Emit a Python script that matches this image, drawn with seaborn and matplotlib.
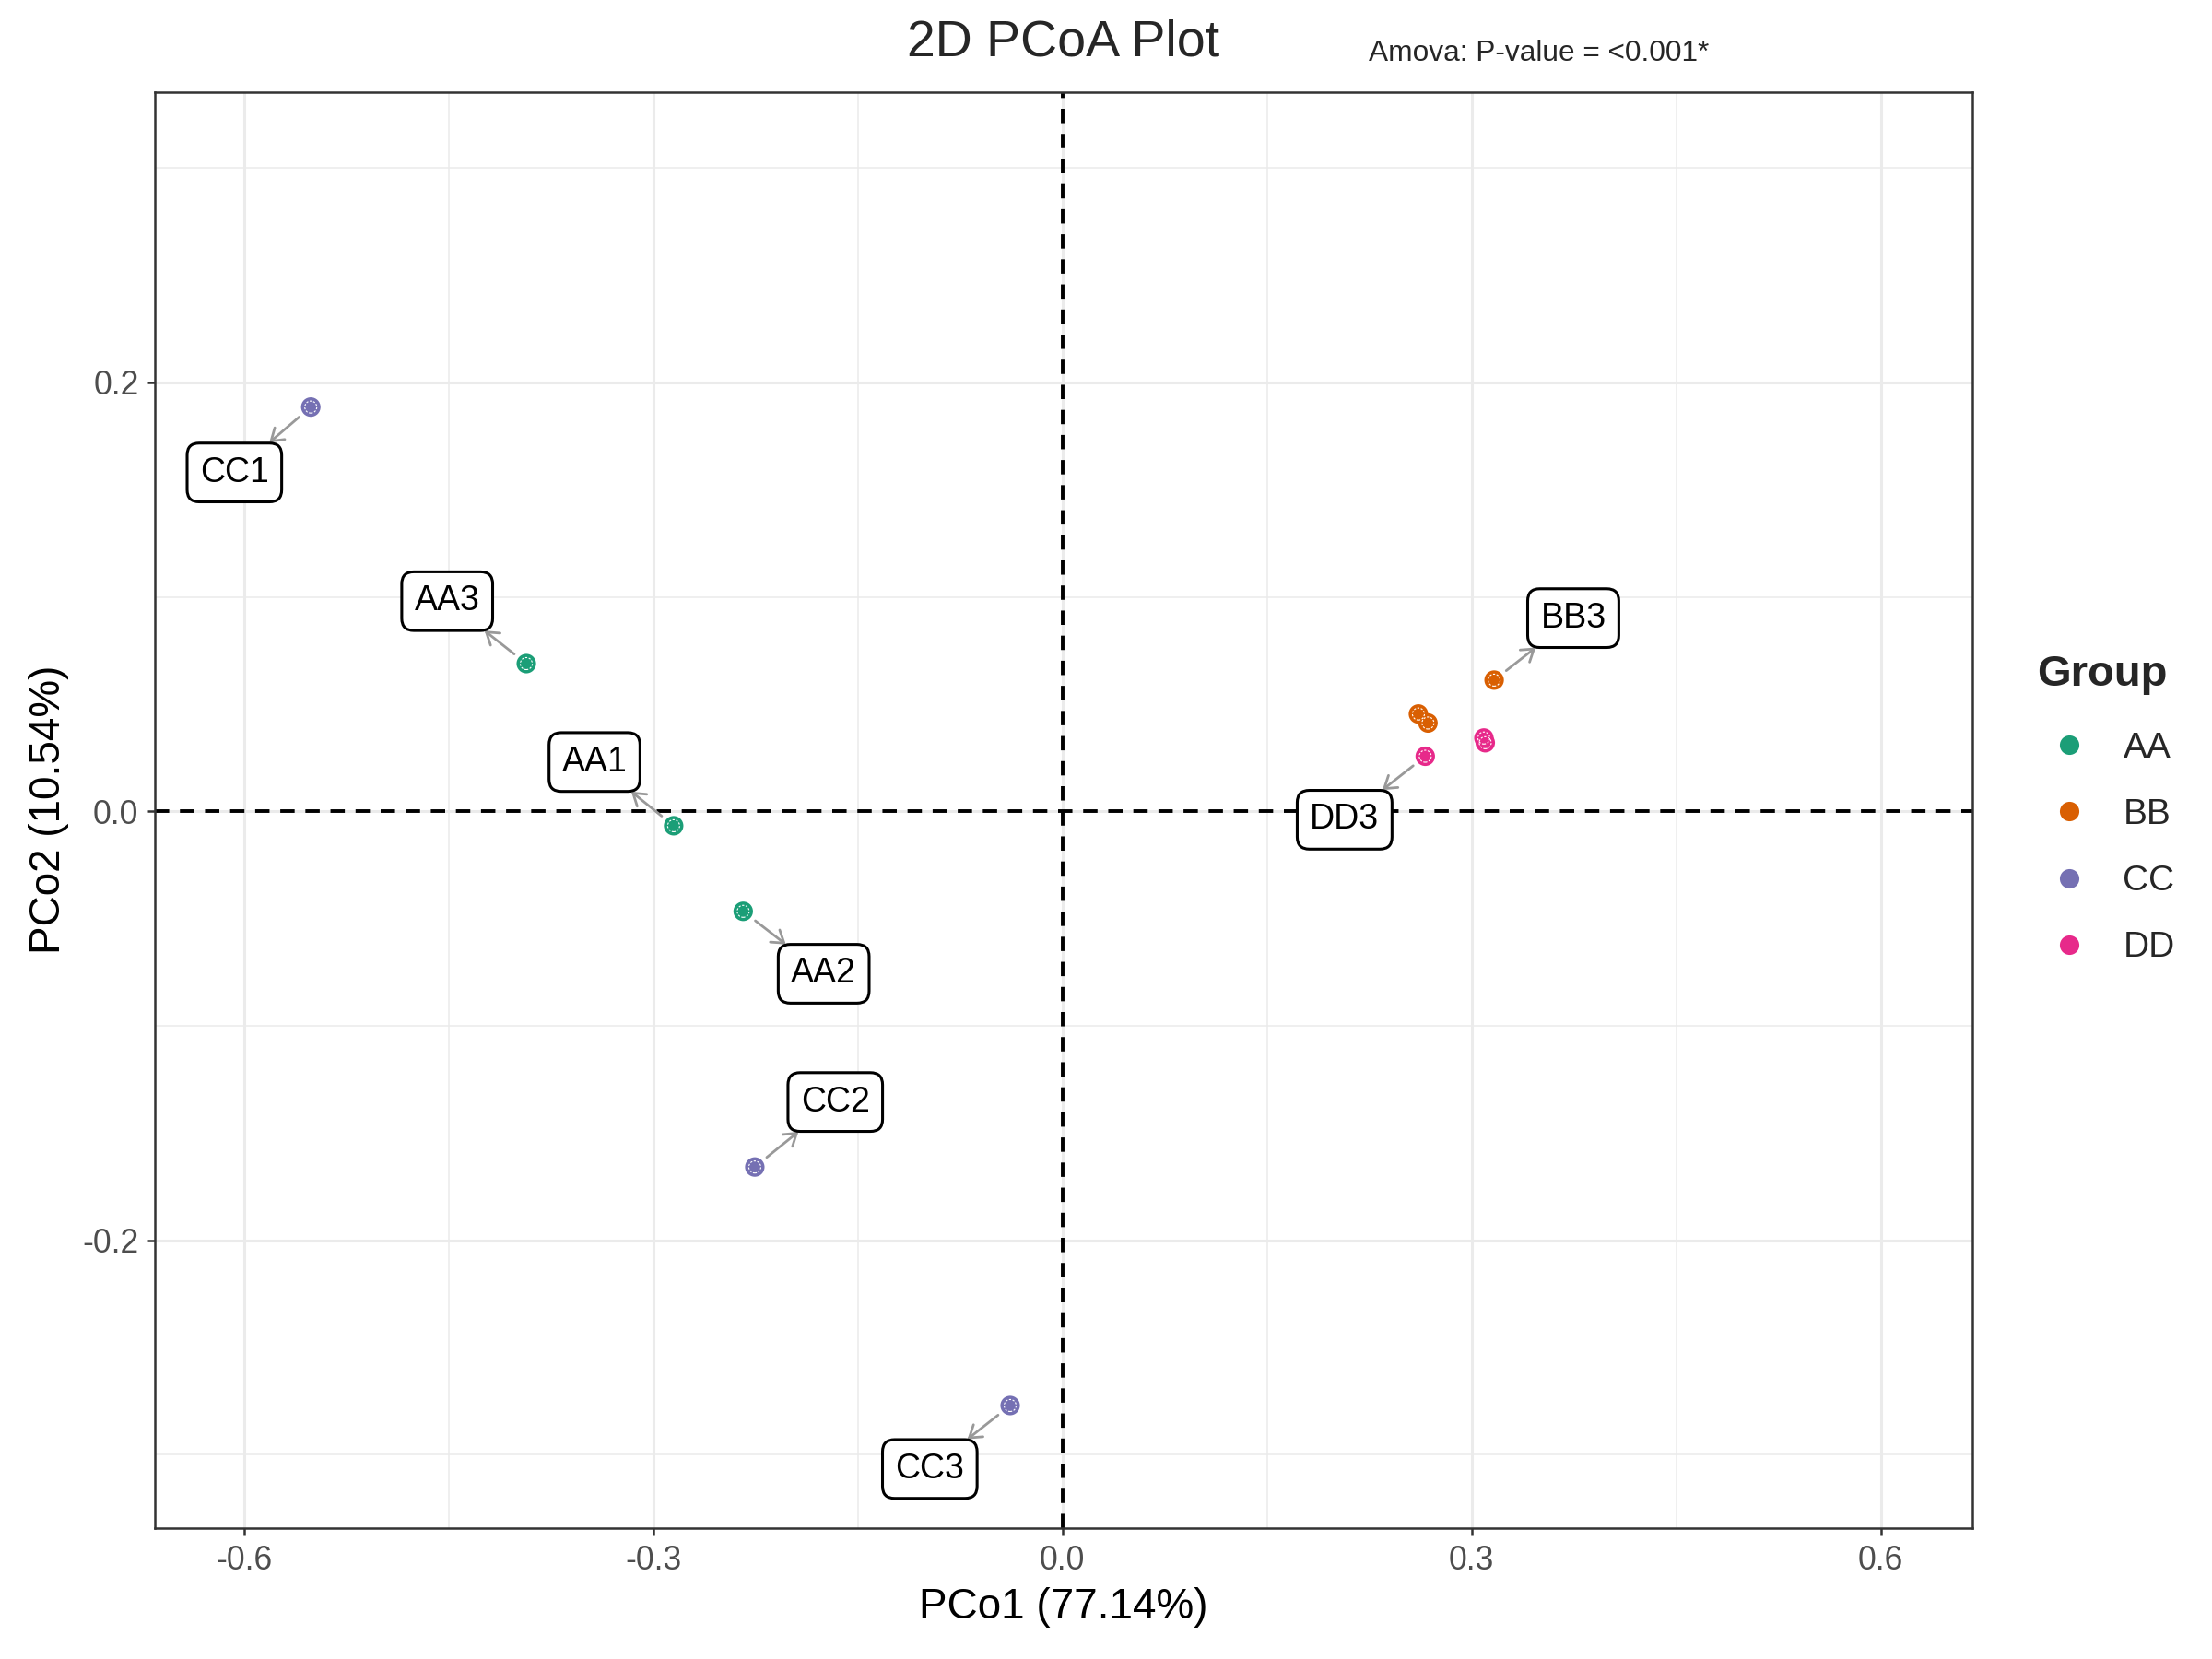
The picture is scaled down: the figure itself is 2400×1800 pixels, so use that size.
import numpy as np
import pandas as pd
import matplotlib
matplotlib.use("Agg")
import matplotlib.pyplot as plt
from matplotlib.lines import Line2D
import seaborn as sns

# PCoA coordinates
samples = ['AA1', 'AA2', 'AA3', 'BB1', 'BB2', 'BB3', 'CC1', 'CC2', 'CC3', 'DD1', 'DD2', 'DD3']
groups = ['AA', 'AA', 'AA', 'BB', 'BB', 'BB', 'CC', 'CC', 'CC', 'DD', 'DD', 'DD']
pco1 = [-0.285, -0.234, -0.393, 0.261, 0.268, 0.3165, -0.551, -0.2255, -0.0383, 0.309, 0.310, 0.266]
pco2 = [-0.0067, -0.0466, 0.0689, 0.0454, 0.0412, 0.0612, 0.1885, -0.1658, -0.277, 0.0342, 0.0320, 0.0257]

# repelled label positions
label_names = ['CC1', 'AA3', 'AA1', 'AA2', 'CC2', 'CC3', 'BB3', 'DD3']
label_x = [-0.607, -0.451, -0.343, -0.175, -0.1665, -0.0972, 0.3745, 0.2069]
label_y = [0.158, 0.098, 0.023, -0.0757, -0.1355, -0.3066, 0.0901, -0.0039]

group_order = ['AA', 'BB', 'CC', 'DD']
palette = dict(zip(group_order, ['#1B9E77', '#D95F02', '#7570B3', '#E7298A']))

df = pd.DataFrame({'sample': samples, 'Group': groups, 'PCo1': pco1, 'PCo2': pco2})

sns.set_style("white")
plt.rcParams['font.family'] = ['Liberation Sans', 'DejaVu Sans']

fig = plt.figure(figsize=(12, 9), dpi=200)
ax = fig.add_axes([0.0702, 0.0791, 0.8214, 0.8656])

# grid like theme_bw
for v in [-0.6, -0.3, 0.0, 0.3, 0.6]:
    ax.axvline(v, color='#EBEBEB', lw=1.1, zorder=0)
for v in [-0.45, -0.15, 0.15, 0.45]:
    ax.axvline(v, color='#EBEBEB', lw=0.55, zorder=0)
for v in [-0.2, 0.0, 0.2]:
    ax.axhline(v, color='#EBEBEB', lw=1.1, zorder=0)
for v in [-0.3, -0.1, 0.1, 0.3]:
    ax.axhline(v, color='#EBEBEB', lw=0.55, zorder=0)

ax.axvline(0, color='black', lw=1.4, ls=(0, (4, 3)), zorder=1)
ax.axhline(0, color='black', lw=1.4, ls=(0, (4, 3)), zorder=1)

sns.scatterplot(data=df, x='PCo1', y='PCo2', hue='Group', hue_order=group_order,
                palette=palette, s=58, edgecolor='none', legend=False, ax=ax, zorder=3)
ax.scatter(df['PCo1'], df['PCo2'], s=22, facecolors='none', edgecolors='white',
           linewidths=0.4, linestyles=(0, (2, 1.5)), zorder=4)

lookup = df.set_index('sample')
for name, lx, ly in zip(label_names, label_x, label_y):
    px, py = lookup.loc[name, 'PCo1'], lookup.loc[name, 'PCo2']
    ax.annotate(name, xy=(px, py), xytext=(lx, ly), ha='center', va='center',
                fontsize=13.5, color='black', zorder=5,
                bbox=dict(boxstyle='round,pad=0.37,rounding_size=0.35', fc='white', ec='black', lw=1.1),
                arrowprops=dict(arrowstyle='<-,head_length=0.45,head_width=0.3', color='#999999',
                                lw=1.0, shrinkA=0, shrinkB=6, mutation_scale=10))

ax.set_xlim(-0.665, 0.667)
ax.set_ylim(-0.334, 0.3355)
ax.set_xticks([-0.6, -0.3, 0.0, 0.3, 0.6])
ax.set_yticks([-0.2, 0.0, 0.2])
ax.set_xticklabels(['-0.6', '-0.3', '0.0', '0.3', '0.6'])
ax.set_yticklabels(['-0.2', '0.0', '0.2'])
ax.tick_params(axis='both', labelsize=12.8, labelcolor='#4D4D4D', color='#333333',
               length=3, width=0.9, bottom=True, left=True)
for sp in ax.spines.values():
    sp.set_color('#333333')
    sp.set_linewidth(0.9)

ax.set_xlabel('PCo1 (77.14%)', fontsize=16.5, color='black', labelpad=4)
ax.set_ylabel('PCo2 (10.54%)', fontsize=16.5, color='black', labelpad=5)

fig.text(0.4805, 0.974, '2D PCoA Plot', ha='center', va='center', fontsize=20)
fig.text(0.6186, 0.968, 'Amova: P-value = <0.001*', ha='left', va='center', fontsize=11.4)

# legend: title drawn separately so its gap to the keys can be set
fig.text(0.921, 0.5935, 'Group', ha='left', va='center', fontsize=17, fontweight='bold')
handles = [Line2D([0], [0], marker='o', ls='none', markersize=7.6,
                  markerfacecolor=palette[g], markeredgecolor='none') for g in group_order]
leg = fig.legend(handles, group_order, loc='upper left',
                 bbox_to_anchor=(0.9144, 0.5676), frameon=False, fontsize=14,
                 labelspacing=0.93, handlelength=1.8, handletextpad=0.6,
                 borderaxespad=0)

fig.savefig('out.png', dpi=200)
